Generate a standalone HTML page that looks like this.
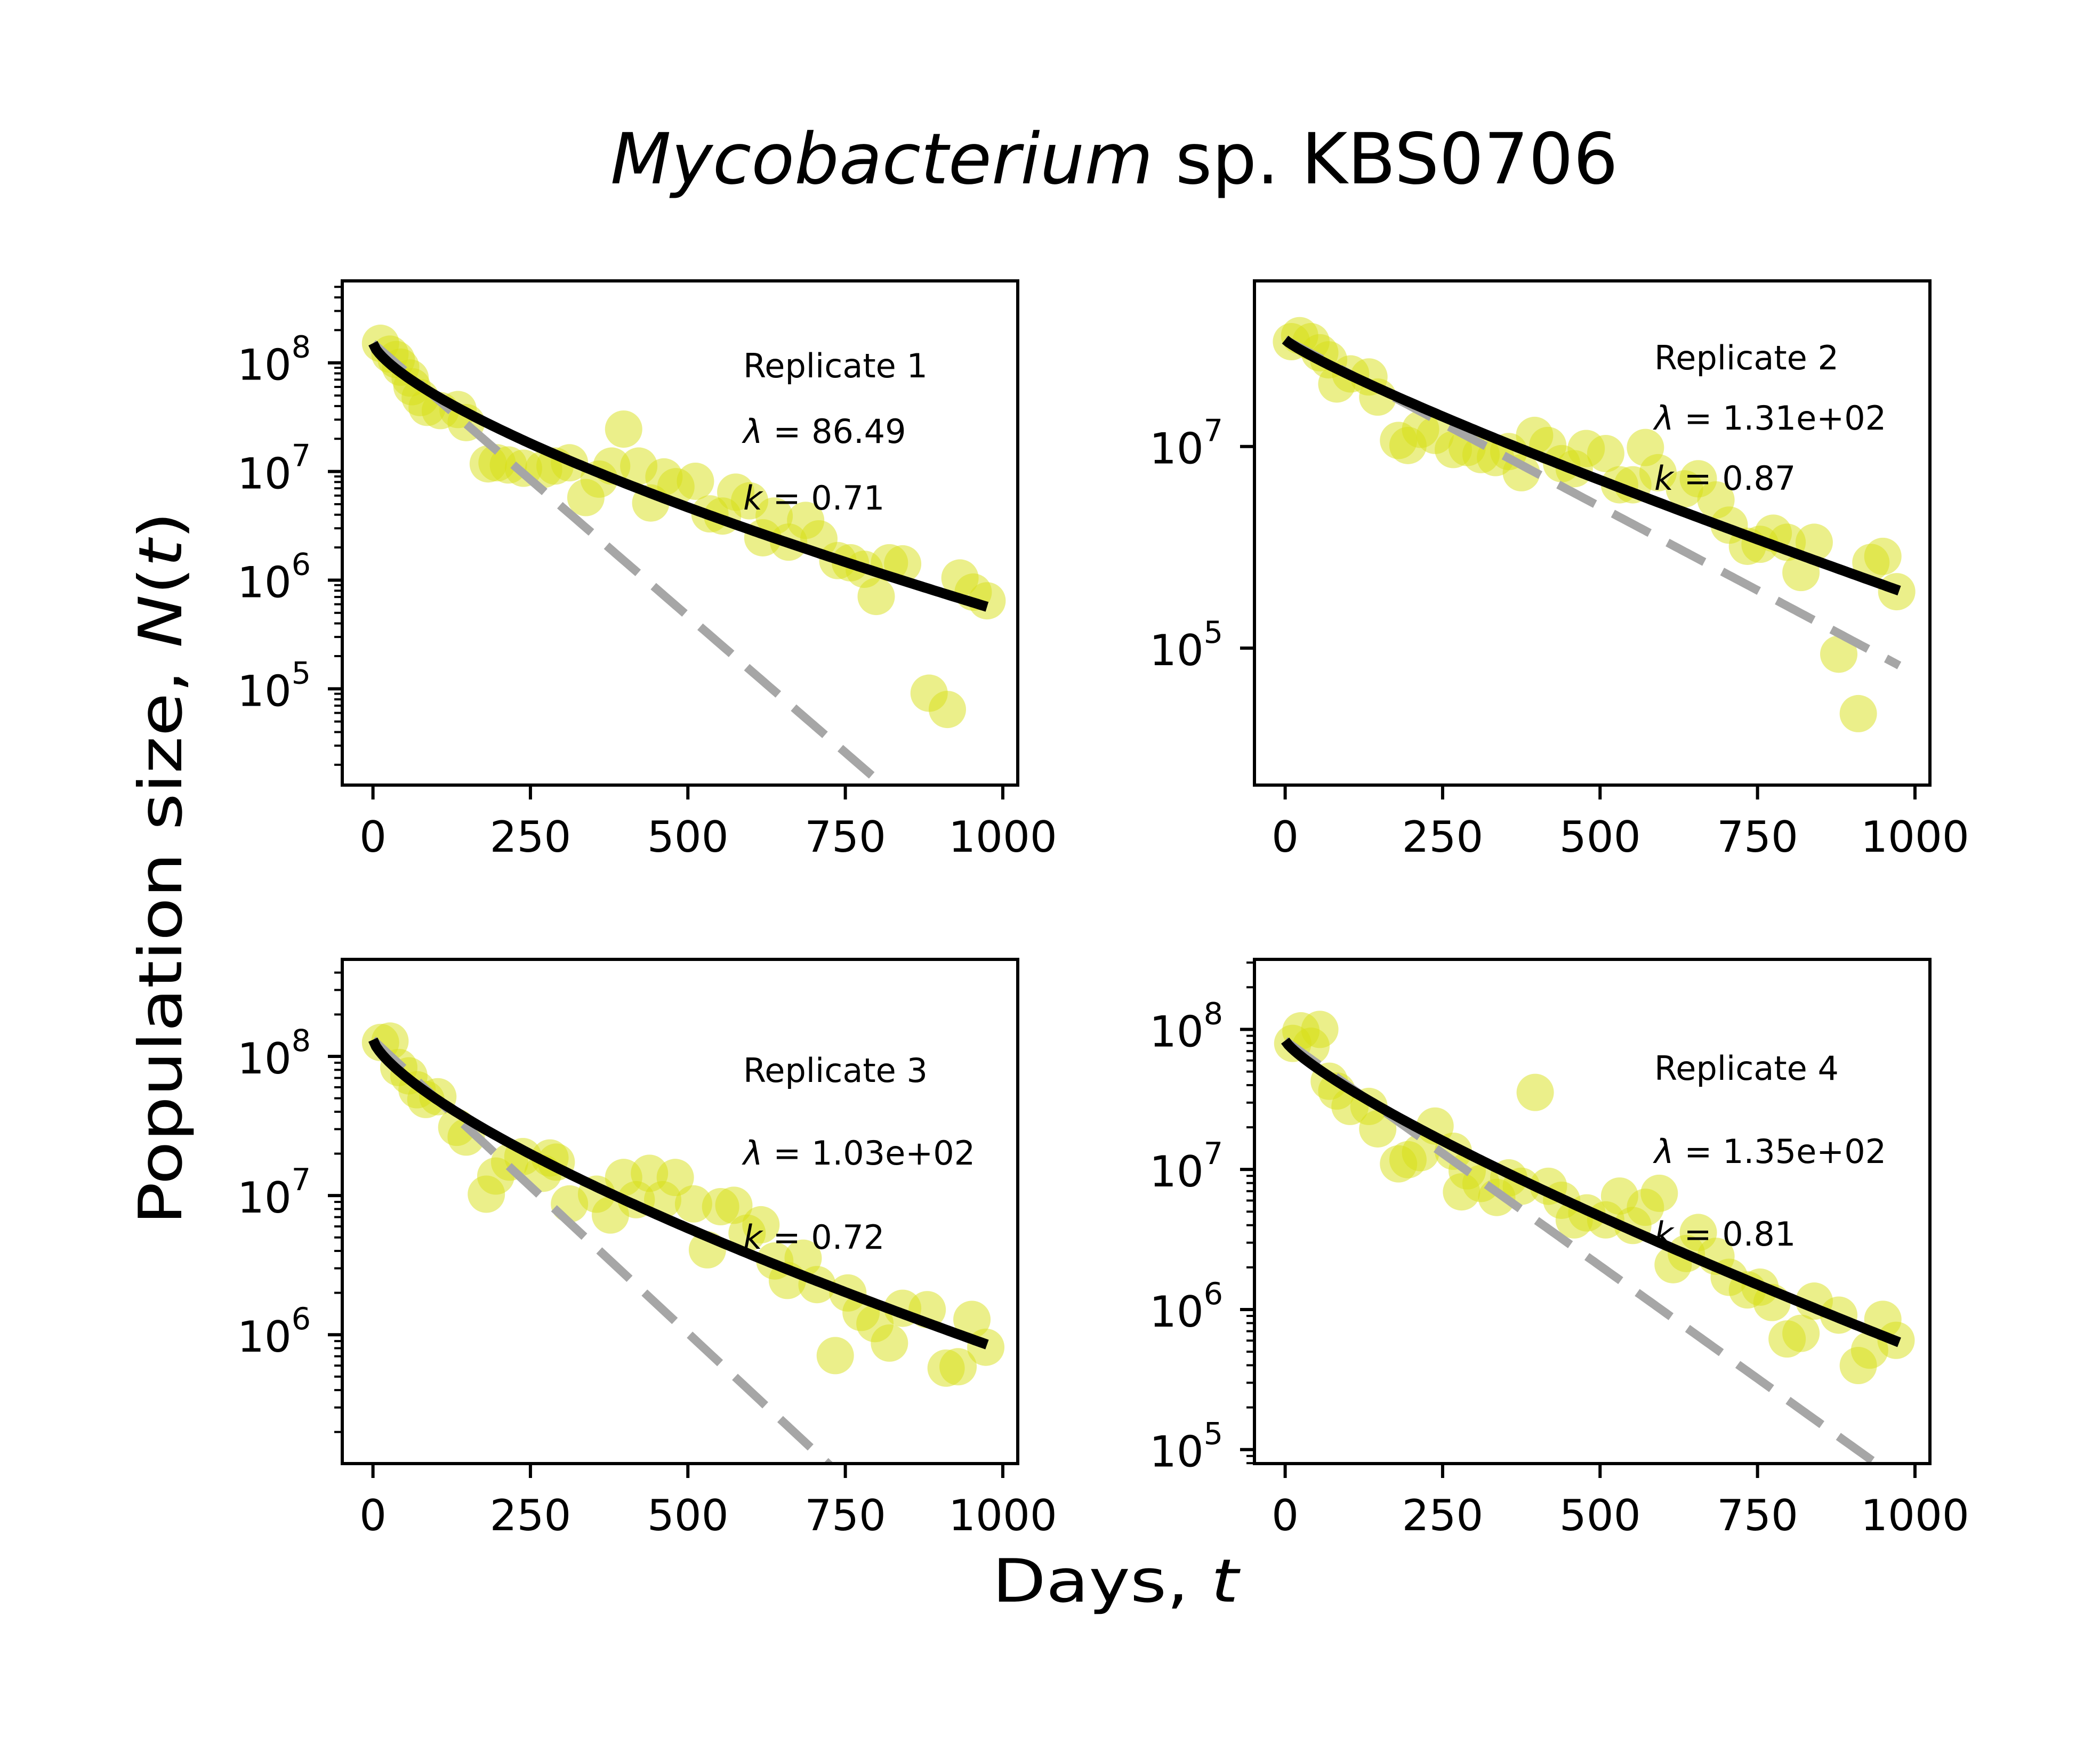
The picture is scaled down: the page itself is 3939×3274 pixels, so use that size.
<!DOCTYPE html>
<html><head><meta charset="utf-8">
<style>
html,body{margin:0;padding:0;background:#fff;}
svg{display:block;font-family:"DejaVu Sans","Liberation Sans",sans-serif;}
</style></head>
<body>
<svg id="fig" width="3939" height="3274" viewBox="0 0 3939 3274" xmlns="http://www.w3.org/2000/svg">
<rect width="3939" height="3274" fill="#fff"/>
<text x="2090" y="344" text-anchor="middle" font-size="132" textLength="1890" lengthAdjust="spacingAndGlyphs"><tspan font-style="italic">Mycobacterium</tspan> sp. KBS0706</text>
<text transform="translate(340,1629) rotate(-90)" text-anchor="middle" font-size="112" textLength="1338" lengthAdjust="spacingAndGlyphs">Population size, <tspan font-style="italic">N</tspan>(<tspan font-style="italic">t</tspan>)</text>
<text x="2092" y="3005" text-anchor="middle" font-size="112" textLength="462" lengthAdjust="spacingAndGlyphs">Days, <tspan font-style="italic">t</tspan></text>
<g id="panels"></g>
</svg>
<script>
// ---- data (days, log10 N) per replicate ----
const rep1Days = [12,27,37,44,59,62,75,86,107,135,148,183,197,215,239,271,289,312,338,359,379,398,422,441,462,481,512,535,555,576,598,619,637,660,687,708,738,758,780,799,820,841,883,912,932,953,975];
const rep1LogN = [8.18,8.08,8.03,7.96,7.86,7.78,7.68,7.59,7.56,7.57,7.45,7.07,7.08,7.06,7.03,7.02,7.05,7.08,6.76,6.93,7.05,7.39,7.05,6.71,6.95,6.86,6.91,6.61,6.59,6.81,6.73,6.39,6.59,6.35,6.55,6.38,6.18,6.16,6.10,5.85,6.16,6.15,4.96,4.81,6.02,5.89,5.81];
const rep2Days = [10,23,41,55,69,82,104,133,147,180,195,215,238,267,289,311,334,355,375,396,417,439,459,478,509,531,552,572,592,634,656,684,705,734,754,775,797,819,840,879,910,930,949,971];
const rep2LogN = [8.04,8.10,8.04,7.93,7.86,7.62,7.72,7.69,7.49,7.06,7.01,7.17,7.11,6.97,6.99,6.92,6.89,6.95,6.74,7.11,7.01,6.83,6.78,6.98,6.93,6.62,6.62,6.99,6.74,6.58,6.68,6.47,6.22,6.01,6.03,6.14,6.05,5.75,6.05,4.94,4.35,5.85,5.91,5.56];
const rep3Days = [12,27,41,57,70,84,103,133,148,180,195,217,238,270,281,291,312,355,377,398,418,439,460,480,509,531,552,573,594,616,638,658,683,705,734,754,775,797,820,841,880,910,929,951,973];
const rep3LogN = [8.10,8.11,7.92,7.86,7.76,7.69,7.71,7.49,7.42,7.01,7.14,7.24,7.28,7.16,7.27,7.24,6.94,7.01,6.86,7.13,6.97,7.16,6.97,7.13,6.94,6.61,6.92,6.93,6.73,6.79,6.53,6.39,6.55,6.36,5.85,6.30,6.16,6.08,5.94,6.19,6.18,5.76,5.77,6.11,5.91];
const rep4Days = [12,25,41,55,70,82,103,133,147,180,195,215,238,267,289,280,311,336,355,375,397,418,439,459,479,509,531,552,572,594,616,637,656,684,705,734,754,773,797,819,840,879,910,928,949,970];
const rep4LogN = [7.90,7.99,7.88,8.00,7.63,7.56,7.45,7.45,7.29,7.04,7.07,7.12,7.31,7.13,6.99,6.84,6.90,6.80,6.94,6.88,7.55,6.88,6.78,6.64,6.69,6.64,6.81,6.60,6.73,6.83,6.32,6.40,6.55,6.38,6.23,6.14,6.16,6.05,5.79,5.83,6.06,5.96,5.60,5.71,5.93,5.78];
// fit parameters
const fitLogN0 = [8.18, 8.06, 8.12, 7.92];
const fitLambda = [86.49, 131, 103, 135];
const fitK = [0.71, 0.87, 0.72, 0.81];
const lambdaLabels = ["86.49", "1.31e+02", "1.03e+02", "1.35e+02"];
const kLabels = ["0.71", "0.87", "0.72", "0.81"];
const xTickValues = [0, 250, 500, 750, 1000];
const yLabelDecades = [[5,6,7,8],[5,7],[6,7,8],[5,6,7,8]];
const yLimits = [[4.114,8.754],[3.641,8.643],[5.074,8.697],[4.90,8.50]];

const NS = "http://www.w3.org/2000/svg";
const panelsG = document.getElementById('panels');
const boxes = [[642,527],[2353,527],[642,1800],[2353,1800]];
const W = 1267, H = 946;
const XMIN = -48.75, XMAX = 1023.75;
const daysSets = [rep1Days, rep2Days, rep3Days, rep4Days];
const logSets = [rep1LogN, rep2LogN, rep3LogN, rep4LogN];
const hasMinor = [true, false, true, true];
const textX = [1394, 3103, 1394, 3103];
const textY = [[708,831,956],[693,806,919],[2030,2185,2343],[2026,2182,2337]];

function mk(tag, attrs, parent){
  const e = document.createElementNS(NS, tag);
  for (const k in attrs) e.setAttribute(k, attrs[k]);
  parent.appendChild(e);
  return e;
}

for (let p = 0; p < 4; p++) {
  const [L, T] = boxes[p];
  const [y0, y1] = yLimits[p];
  const sx = t => L + (t - XMIN) / (XMAX - XMIN) * W;
  const sy = v => T + H - (v - y0) / (y1 - y0) * H;
  const g = mk('g', {}, panelsG);
  
  
  const clipId = 'clip' + p;
  const cp = mk('clipPath', {id: clipId}, g);
  mk('rect', {x: L, y: T, width: W, height: H}, cp);

  const sg = mk('g', {'clip-path': 'url(#' + clipId + ')'}, g);
  
  
  const ds = daysSets[p], ls = logSets[p];
  for (let i = 0; i < ds.length; i++) {
    const c = mk('circle', {cx: sx(ds[i]), cy: sy(ls[i]), r: 35, fill: '#d7df15', 'fill-opacity': 0.5}, sg);
    
    
  }
  let dpts = [], fpts = [];
  for (let t = 0; t <= 975; t += 5) {
    dpts.push(sx(t).toFixed(1) + ',' + sy(fitLogN0[p] - t / fitLambda[p] / Math.LN10).toFixed(1));
    fpts.push(sx(t).toFixed(1) + ',' + sy(fitLogN0[p] - Math.pow(t / fitLambda[p], fitK[p]) / Math.LN10).toFixed(1));
  }
  const dl = mk('polyline', {points: dpts.join(' '), fill: 'none', stroke: '#a6a6a6', 'stroke-width': 16, 'stroke-dasharray': '78 38', 'clip-path': 'url(#' + clipId + ')'}, g);
  
  
  const fl = mk('polyline', {points: fpts.join(' '), fill: 'none', stroke: '#000', 'stroke-width': 19, 'clip-path': 'url(#' + clipId + ')'}, g);
  
  

  const fr = mk('rect', {x: L, y: T, width: W, height: H, fill: 'none', stroke: '#000', 'stroke-width': 6}, g);
  
  

  for (const v of xTickValues) {
    const x = sx(v);
    const tk = mk('line', {x1: x, x2: x, y1: T + H, y2: T + H + 27, stroke: '#000', 'stroke-width': 6}, g);
    
    
    const tl = mk('text', {x: x, y: T + H + 125, 'text-anchor': 'middle', 'font-size': 80}, g);
    tl.textContent = String(v);
    
    
  }
  for (let d = Math.floor(y0); d <= Math.ceil(y1); d++) {
    if (d >= y0 && d <= y1 && (hasMinor[p] || yLabelDecades[p].includes(d))) {
      const y = sy(d);
      const tk = mk('line', {x1: L - 27, x2: L, y1: y, y2: y, stroke: '#000', 'stroke-width': 6}, g);
      
      
    }
    if (yLabelDecades[p].includes(d)) {
      const y = sy(d);
      const tl = mk('text', {x: L - 59, y: y + 32, 'text-anchor': 'end', 'font-size': 80}, g);
      
      
      const a = mk('tspan', {}, tl); a.textContent = '10';
      const b = mk('tspan', {dy: -42, 'font-size': 57}, tl); b.textContent = String(d);
    }
    if (hasMinor[p]) {
      for (let m = 2; m <= 9; m++) {
        const v = d + Math.log10(m);
        if (v < y0 || v > y1) continue;
        const y = sy(v);
        const mt = mk('line', {x1: L - 15, x2: L, y1: y, y2: y, stroke: '#000', 'stroke-width': 4}, g);
        
        
      }
    }
  }
  const t1 = mk('text', {x: textX[p], y: textY[p][0], 'font-size': 62}, g);
  t1.textContent = 'Replicate ' + (p+1);
  
  
  const t2 = mk('text', {x: textX[p], y: textY[p][1], 'font-size': 62}, g);
  
  
  const a2 = mk('tspan', {'font-style': 'italic'}, t2); a2.textContent = 'λ';
  const b2 = mk('tspan', {}, t2); b2.textContent = ' = ' + lambdaLabels[p];
  const t3 = mk('text', {x: textX[p], y: textY[p][2], 'font-size': 62}, g);
  
  
  const a3 = mk('tspan', {'font-style': 'italic'}, t3); a3.textContent = 'k';
  const b3 = mk('tspan', {}, t3); b3.textContent = ' = ' + kLabels[p];
}
</script>
</body></html>
